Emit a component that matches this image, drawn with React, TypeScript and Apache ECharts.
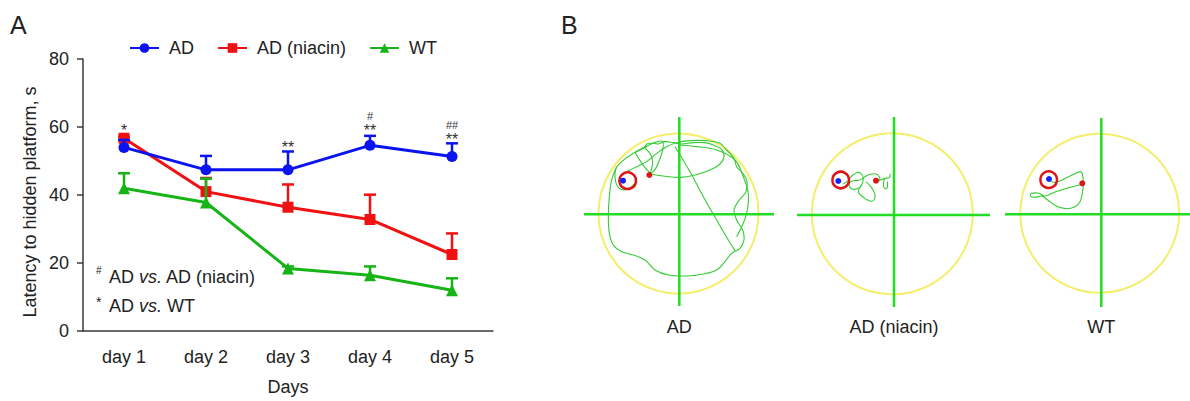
import React, { useEffect, useRef } from "react";
import * as echarts from "echarts";

const FONT = "'Liberation Sans', Arial, Helvetica, sans-serif";

// ---- Panel A data ----
const days = ["day 1", "day 2", "day 3", "day 4", "day 5"];
const seriesNames = ["AD", "AD (niacin)", "WT"];
const adMean = [54.0, 47.4, 47.4, 54.6, 51.3];
const adErr = [2.2, 4.1, 5.4, 2.8, 3.9];
const niacinMean = [56.7, 41.0, 36.4, 32.8, 22.5];
const niacinErr = [0.5, 4.0, 6.7, 7.3, 6.2];
const wtMean = [42.0, 37.8, 18.4, 16.4, 12.0];
const wtErr = [4.4, 7.0, 0.6, 2.6, 3.5];
const yTicks = [0, 20, 40, 60, 80];

// significance marks (AD vs. AD (niacin): #, AD vs. WT: *) and the value level of the lowest mark
const hashText = ["", "", "", "#", "##"];
const starText = ["*", "", "**", "**", "**"];
const sigLevel = [57.0, 0, 52.0, 57.0, 54.4];

// ---- Panel B labels ----
const mazeLabels = ["AD", "AD (niacin)", "WT"];

const BLUE = "#0a14f0";
const RED = "#f01212";
const GREEN = "#16b416";
const AXIS = "#3a3a3a";

function errorSeries(name: string, mean: number[], err: number[], color: string, z: number) {
  return {
    type: "custom",
    name: name + " err",
    z,
    silent: true,
    encode: { x: 0, y: [1, 2] },
    data: mean.map((m, i) => [i, m, m + err[i]]),
    renderItem: (params: any, api: any) => {
      const i = api.value(0);
      const p0 = api.coord([i, api.value(1)]);
      const p1 = api.coord([i, api.value(2)]);
      return {
        type: "group",
        children: [
          { type: "line", shape: { x1: p0[0], y1: p0[1], x2: p1[0], y2: p1[1] }, style: { stroke: color, lineWidth: 2.5 } },
          { type: "line", shape: { x1: p1[0] - 6, y1: p1[1], x2: p1[0] + 6, y2: p1[1] }, style: { stroke: color, lineWidth: 2.5 } },
        ],
      };
    },
  };
}

function sigSeries() {
  return {
    type: "custom",
    name: "sig",
    silent: true,
    z: 10,
    encode: { x: 0, y: 1 },
    data: sigLevel.map((v, i) => [i, v]),
    renderItem: (params: any, api: any) => {
      const i = params.dataIndex;
      const h = hashText[i];
      const s = starText[i];
      if (!h && !s) return null;
      const p = api.coord([api.value(0), api.value(1)]);
      const text = h ? `{h|${h}}\n{s|${s}}` : `{s|${s}}`;
      return {
        type: "text",
        x: p[0],
        y: p[1],
        style: {
          text,
          rich: {
            h: { fontSize: 11, lineHeight: 14, fontFamily: FONT, fill: "#333", align: "center" },
            s: { fontSize: 16, lineHeight: 14, fontFamily: FONT, fill: "#333", align: "center" },
          },
          align: "center",
          verticalAlign: "bottom",
        },
      };
    },
  };
}

function lineSeries(name: string, data: number[], color: string, symbol: string, z: number) {
  return {
    type: "line",
    name,
    data,
    z,
    symbol,
    symbolSize: symbol === "triangle" ? 12 : 11,
    lineStyle: { color, width: 3 },
    itemStyle: { color },
    color,
  };
}

// ---- Panel B helpers ----
const z3 = (ox: number, oy: number, pts: number[][]) => pts.map(([x, y]) => [ox + x / 3, oy + y / 3]);

const maze1Paths = [
  [[210,222],[250,228],[300,232],[345,225],[390,210],[420,192],[432,170],[425,148],[400,135],[375,128],[340,128],[305,132],[280,128],[255,125],[235,132],[205,130],[195,142],[210,160],[218,185],[212,215]],
  [[200,140],[160,160],[125,185],[108,205],[106,240],[118,265],[140,268],[165,250],[170,232]],
  [[110,200],[95,240],[88,290],[85,350],[88,400],[100,435],[125,455],[160,465],[195,480],[225,510],[265,525],[320,528],[370,522],[410,510],[435,485],[455,460],[480,445],[492,420],[488,390],[470,360],[462,330],[478,300],[498,275],[500,240],[488,220],[470,200],[462,175],[440,150],[420,130],[380,122],[330,122],[290,128],[260,140],[230,160],[200,185],[170,200],[140,215]],
  [[285,140],[330,215],[370,290],[410,360],[445,420],[465,452]],
  [[165,157],[248,125],[215,218],[165,157]],
  [[300,135],[350,140],[410,150],[465,180],[490,230],[505,282],[500,340],[485,380],[470,410]],
];
const maze2Paths = [
  [[160,222],[175,212],[185,198],[200,188],[212,190],[220,205],[215,225],[205,235],[190,238],[180,232],[178,220],[190,212],[210,210],[225,200],[240,193],[258,192],[268,200],[268,212],[258,213]],
  [[215,225],[205,245],[220,262],[240,273],[252,270],[255,255],[248,238],[238,225],[228,215]],
  [[258,213],[272,210],[285,205],[298,203],[300,192]],
  [[285,205],[280,222],[285,236],[292,232],[292,215]],
];
const maze3Paths = [
  [[160,208],[172,216],[188,216],[205,208],[230,196],[255,185],[262,192],[265,220],[262,250],[255,275],[240,290],[212,296],[182,287],[158,270],[140,258],[120,262],[106,258],[110,250],[132,250],[150,258],[180,246],[220,233],[250,226],[263,221]],
];

type Maze = {
  ring: [number, number, number];
  cross: [number, number];
  h: [number, number];
  v: [number, number];
  platform: [number, number];
  blue: [number, number];
  red: [number, number];
  paths: number[][][];
};

const mazes: Maze[] = [
  { ring: [678.5, 213.5, 80], cross: [679.3, 214.3], h: [584, 774], v: [117, 306], platform: [627.7, 180.7], blue: [623, 180.7], red: [649.3, 175], paths: maze1Paths.map((p) => z3(580, 100, p)) },
  { ring: [892.3, 213.8, 80.5], cross: [894, 215], h: [797, 990], v: [117, 307], platform: [840.7, 180], blue: [838.3, 181], red: [876, 180.7], paths: maze2Paths.map((p) => z3(790, 110, p)) },
  { ring: [1099.7, 213.3, 79.5], cross: [1101.3, 214.3], h: [1005, 1190], v: [118, 307], platform: [1048.7, 179.7], blue: [1049, 179], red: [1082.3, 183.3], paths: maze3Paths.map((p) => z3(995, 110, p)) },
];

function mazeGraphics(m: Maze, label: string) {
  const els: any[] = [];
  els.push({ type: "circle", shape: { cx: m.ring[0], cy: m.ring[1], r: m.ring[2] }, style: { fill: "none", stroke: "#f4ee6a", lineWidth: 2 }, z: 1 });
  els.push({ type: "line", shape: { x1: m.h[0], y1: m.cross[1], x2: m.h[1], y2: m.cross[1] }, style: { stroke: "#22dd22", lineWidth: 2.5 }, z: 2 });
  els.push({ type: "line", shape: { x1: m.cross[0], y1: m.v[0], x2: m.cross[0], y2: m.v[1] }, style: { stroke: "#22dd22", lineWidth: 2.5 }, z: 2 });
  m.paths.forEach((p) => {
    els.push({ type: "polyline", shape: { points: p, smooth: 0.35 }, style: { fill: "none", stroke: "#33cc33", lineWidth: 1.1 }, z: 3 });
  });
  els.push({ type: "circle", shape: { cx: m.platform[0], cy: m.platform[1], r: 8.3 }, style: { fill: "none", stroke: "#e01414", lineWidth: 2.5 }, z: 4 });
  els.push({ type: "circle", shape: { cx: m.blue[0], cy: m.blue[1], r: 3 }, style: { fill: "#1020ff" }, z: 5 });
  els.push({ type: "circle", shape: { cx: m.red[0], cy: m.red[1], r: 3 }, style: { fill: "#e01414" }, z: 5 });
  els.push({ type: "text", x: m.cross[0], y: 327, style: { text: label, fontSize: 18, fontFamily: FONT, fill: "#222", align: "center", verticalAlign: "middle" }, z: 5 });
  return els;
}

export default function App() {
  const ref = useRef<HTMLDivElement>(null);
  useEffect(() => {
    const chart = echarts.init(ref.current!, null, { renderer: "svg" });
    const graphic: any[] = [
      { type: "text", x: 10, y: 12, style: { text: "A", fontSize: 25, fontFamily: FONT, fill: "#222" } },
      { type: "text", x: 561, y: 12, style: { text: "B", fontSize: 25, fontFamily: FONT, fill: "#222" } },
      { type: "text", x: 30, y: 202, rotation: Math.PI / 2, style: { text: "Latency to hidden platform, s", fontSize: 18, fontFamily: FONT, fill: "#222", align: "center", verticalAlign: "middle" } },
      { type: "text", x: 96, y: 270, style: { text: "#", fontSize: 10, fontFamily: FONT, fill: "#222", align: "left", verticalAlign: "middle" } },
      { type: "text", x: 109, y: 277, style: { rich: { n: { fontSize: 18, fontFamily: FONT, fill: "#222" }, i: { fontSize: 18, fontFamily: FONT, fontStyle: "italic", fill: "#222" } }, text: "{n|AD }{i|vs.}{n| AD (niacin)}", align: "left", verticalAlign: "middle" } },
      { type: "text", x: 96, y: 302, style: { text: "*", fontSize: 14, fontFamily: FONT, fill: "#222", align: "left", verticalAlign: "middle" } },
      { type: "text", x: 109, y: 306, style: { rich: { n: { fontSize: 18, fontFamily: FONT, fill: "#222" }, i: { fontSize: 18, fontFamily: FONT, fontStyle: "italic", fill: "#222" } }, text: "{n|AD }{i|vs.}{n| WT}", align: "left", verticalAlign: "middle" } },
    ];
    mazes.forEach((m, i) => graphic.push(...mazeGraphics(m, mazeLabels[i])));

    chart.setOption({
      animation: false,
      backgroundColor: "#ffffff",
      textStyle: { fontFamily: FONT },
      grid: { left: 83, right: 697, top: 59, bottom: 69, containLabel: false },
      legend: {
        data: seriesNames,
        left: 129,
        top: 39,
        padding: 0,
        itemWidth: 29,
        itemHeight: 12,
        itemGap: 23,
        textStyle: { fontSize: 18, color: "#222", fontFamily: FONT, padding: [0, 0, 0, 5] },
      },
      xAxis: {
        type: "category",
        data: days,
        boundaryGap: true,
        name: "Days",
        nameLocation: "middle",
        nameGap: 47,
        nameTextStyle: { fontSize: 18, color: "#222", fontFamily: FONT },
        axisLine: { lineStyle: { color: AXIS, width: 1.5 } },
        axisTick: { alignWithLabel: true, length: 5, lineStyle: { color: AXIS, width: 1.5 } },
        axisLabel: { fontSize: 18, color: "#222", margin: 17, fontFamily: FONT },
        splitLine: { show: false },
      },
      yAxis: {
        type: "value",
        min: yTicks[0],
        max: yTicks[yTicks.length - 1],
        interval: yTicks[1] - yTicks[0],
        axisLine: { show: true, lineStyle: { color: AXIS, width: 1.5 } },
        axisTick: { show: true, length: 6, lineStyle: { color: AXIS, width: 1.5 } },
        axisLabel: { fontSize: 18, color: "#222", margin: 14, fontFamily: FONT },
        splitLine: { show: false },
      },
      series: [
        errorSeries("AD (niacin)", niacinMean, niacinErr, RED, 1),
        lineSeries("AD (niacin)", niacinMean, RED, "rect", 2),
        errorSeries("WT", wtMean, wtErr, GREEN, 3),
        lineSeries("WT", wtMean, GREEN, "triangle", 4),
        errorSeries("AD", adMean, adErr, BLUE, 5),
        lineSeries("AD", adMean, BLUE, "circle", 6),
        sigSeries(),
      ],
      graphic,
    });
    return () => chart.dispose();
  }, []);
  return <div ref={ref} style={{ position: "absolute", left: 0, top: 0, width: 1190, height: 401 }} />;
}
